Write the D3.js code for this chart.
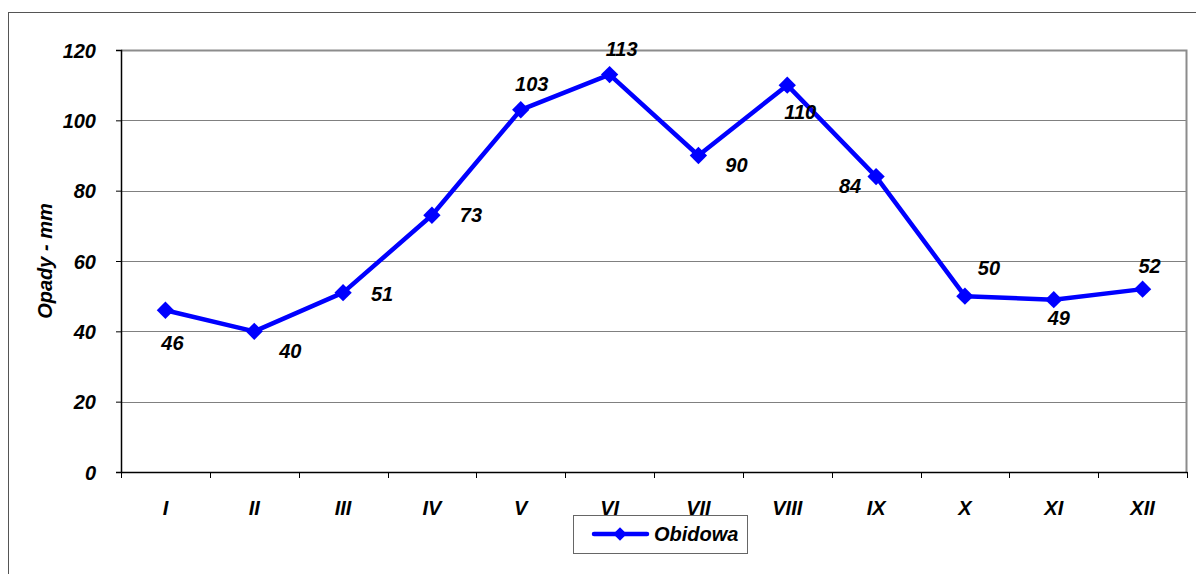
<!DOCTYPE html>
<html><head><meta charset="utf-8">
<script src="https://cdn.jsdelivr.net/npm/d3@7"></script>
<style>
body{margin:0;background:#fff;}
text{font-family:"Liberation Sans",Arial,sans-serif;font-weight:bold;font-style:italic;}
</style></head>
<body><svg id="c" width="1196" height="574"></svg>
<script>
const months = ["I","II","III","IV","V","VI","VII","VIII","IX","X","XI","XII"];
const values = [46,40,51,73,103,113,90,110,84,50,49,52];
const yTicks = [0,20,40,60,80,100,120];
const seriesName = "Obidowa";
const yTitle = "Opady - mm";
// label placement relative to point (dx, dy)
const labelOffsets = [[7,40],[36,27],[39,8],[39,7],[11,-19],[12,-19],[38,16],[13,34],[-26,16],[24,-21],[5,25],[7,-16]];

const svg = d3.select("#c");
const L=121, R=1187, T=50, B=472;
const FS=20;
// outer border
svg.append("rect").attr("x",8.5).attr("y",12.5).attr("width",1200).attr("height",600)
  .attr("fill","none").attr("stroke","#555").attr("stroke-width",1);

const x = d3.scaleBand().domain(months).range([L,R]);
const y = d3.scaleLinear().domain([0,120]).range([B,T]);

// gridlines
svg.append("g").selectAll("line").data(yTicks.filter(d=>d>0&&d<120)).join("line")
  .attr("x1",L).attr("x2",R).attr("y1",d=>Math.round(y(d))+0.5).attr("y2",d=>Math.round(y(d))+0.5)
  .attr("stroke","#808080").attr("stroke-width",1);
// plot border top/right
svg.append("path").attr("d",`M${L},${T+0.5}H${R-0.5}V${B}`).attr("fill","none").attr("stroke","#8c8c8c").attr("stroke-width",2);

const fontStyle = s => s.style("font-family","'Liberation Sans',Arial,sans-serif").style("font-weight","bold").style("font-style","italic");

// y axis
const ya = svg.append("g").attr("transform",`translate(${L},0)`)
  .call(d3.axisLeft(y).tickValues(yTicks).tickSize(5).tickPadding(20));
ya.select(".domain").attr("stroke","#000").attr("stroke-width",1.5);
ya.selectAll(".tick line").attr("stroke","#000");
ya.selectAll("text").attr("font-size",FS).attr("fill","#000").attr("dy","0.35em").call(fontStyle);

// x axis
const xa = svg.append("g").attr("transform",`translate(0,${B})`)
  .call(d3.axisBottom(x).tickSize(0).tickPadding(29));
xa.select(".domain").attr("stroke","#000").attr("stroke-width",1.5);
xa.selectAll("text").attr("font-size",FS).attr("fill","#000").call(fontStyle);
// x ticks at band boundaries
const bounds = months.map(m=>x(m)).concat([R]);
svg.append("g").selectAll("line").data(bounds).join("line")
  .attr("x1",d=>Math.round(d)+0.5).attr("x2",d=>Math.round(d)+0.5).attr("y1",B).attr("y2",B+6)
  .attr("stroke","#000").attr("stroke-width",1);

// y title
svg.append("text").attr("transform",`translate(52,${(T+B)/2}) rotate(-90)`)
  .attr("text-anchor","middle").attr("font-size",FS).text(yTitle);

// line
const cx = m=>x(m)+x.bandwidth()/2;
const pts = months.map((m,i)=>[cx(m), y(values[i])]);
svg.append("path").datum(pts).attr("d",d3.line()).attr("fill","none")
  .attr("stroke","#0000ff").attr("stroke-width",4.5).attr("stroke-linejoin","round");
const diamond = d3.symbol().type(d3.symbolSquare).size(150);
svg.append("g").selectAll("path").data(pts).join("path")
  .attr("d",diamond).attr("transform",d=>`translate(${d[0]},${d[1]}) rotate(45)`).attr("fill","#0000ff");

// labels
svg.append("g").selectAll("text").data(values).join("text")
  .attr("x",(d,i)=>pts[i][0]+labelOffsets[i][0]).attr("y",(d,i)=>pts[i][1]+labelOffsets[i][1])
  .attr("text-anchor","middle").attr("font-size",FS).attr("fill","#000").text(d=>d);

// legend
const lg = svg.append("g");
lg.append("rect").attr("x",573.5).attr("y",515.5).attr("width",174).attr("height",38)
  .attr("fill","#fff").attr("stroke","#666").attr("stroke-width",1);
lg.append("line").attr("x1",594).attr("x2",647).attr("y1",534).attr("y2",534)
  .attr("stroke","#0000ff").attr("stroke-width",4.5).attr("stroke-linecap","round");
lg.append("path").attr("d",d3.symbol().type(d3.symbolSquare).size(90)).attr("transform","translate(620,534) rotate(45)").attr("fill","#0000ff");
lg.append("text").attr("x",654).attr("y",541).attr("font-size",FS).text(seriesName);
</script></body></html>
